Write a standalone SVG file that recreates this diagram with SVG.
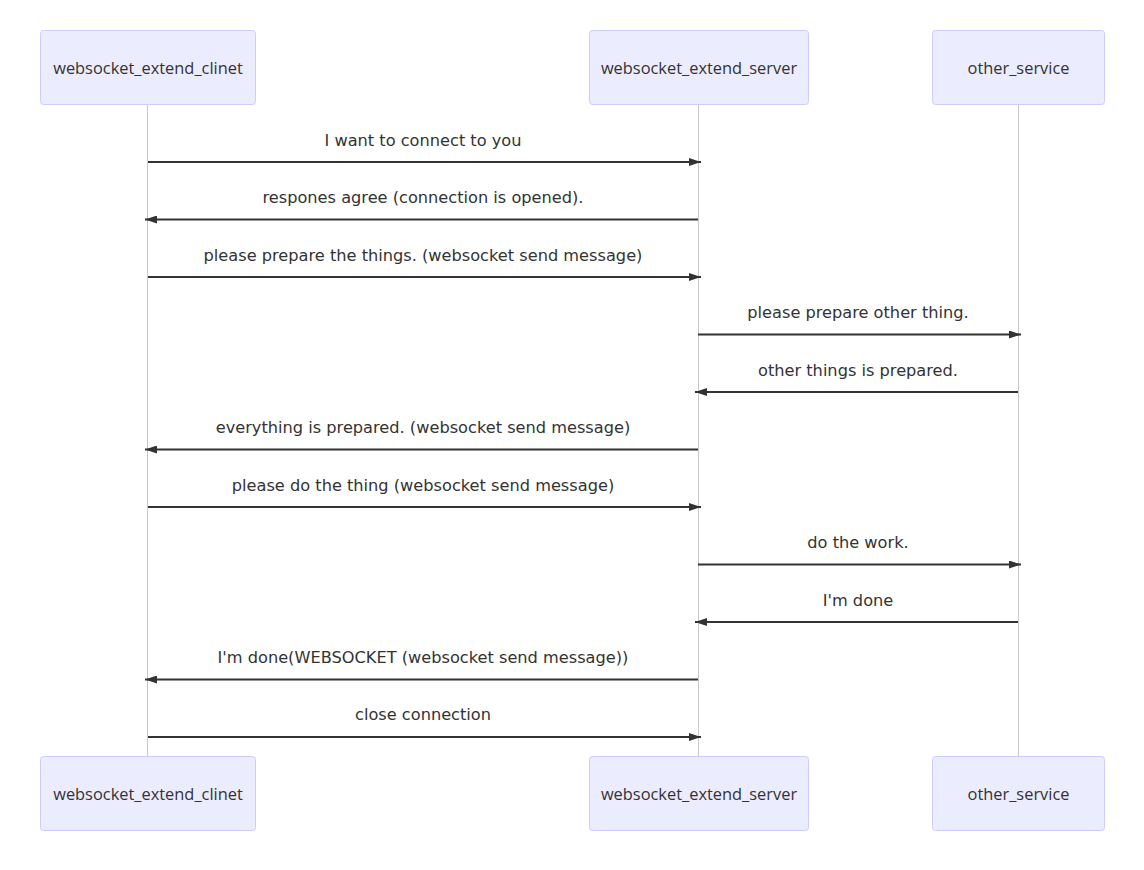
<svg xmlns="http://www.w3.org/2000/svg" width="1144" height="870" viewBox="0 0 1144 870">
<style>
.actor{fill:#ECECFF;stroke:#CCCCFF;stroke-width:1}
.atext{font-family:"Open Sans","Liberation Sans",sans-serif;font-size:16.4px;fill:#333;text-anchor:middle;dominant-baseline:central}
.life{stroke:#c8c8c8;stroke-width:1}
.msg{stroke:#333;stroke-width:2;fill:none}
.mtext{font-family:"DejaVu Sans","Liberation Sans",sans-serif;font-size:16.2px;fill:#333;text-anchor:middle}
</style>
<defs>
<marker id="ah" viewBox="0 0 12 8" refX="12" refY="4" markerWidth="12" markerHeight="8" markerUnits="userSpaceOnUse" orient="auto">
<path d="M0,0 L12,4 L0,8 z" fill="#333"/>
</marker>
</defs>
<rect width="1144" height="870" fill="#fff"/>
<g id="lifelines">
<line class="life" x1="147.5" y1="104" x2="147.5" y2="756"/>
<line class="life" x1="698.5" y1="104" x2="698.5" y2="756"/>
<line class="life" x1="1018.5" y1="104" x2="1018.5" y2="756"/>
</g>
<g id="client-top"><rect class="actor" x="40.5" y="30.5" width="215" height="74" rx="3"/><text class="atext" x="148" y="67">websocket_extend_clinet</text></g>
<g id="server-top"><rect class="actor" x="589.5" y="30.5" width="219" height="74" rx="3"/><text class="atext" x="699" y="67">websocket_extend_server</text></g>
<g id="other-top"><rect class="actor" x="932.5" y="30.5" width="172" height="74" rx="3"/><text class="atext" x="1018.5" y="67">other_service</text></g>
<g id="client-bottom"><rect class="actor" x="40.5" y="756.5" width="215" height="74" rx="3"/><text class="atext" x="148" y="793">websocket_extend_clinet</text></g>
<g id="server-bottom"><rect class="actor" x="589.5" y="756.5" width="219" height="74" rx="3"/><text class="atext" x="699" y="793">websocket_extend_server</text></g>
<g id="other-bottom"><rect class="actor" x="932.5" y="756.5" width="172" height="74" rx="3"/><text class="atext" x="1018.5" y="793">other_service</text></g>
<g id="connectors">
<line class="msg" x1="148" y1="162" x2="701" y2="162" marker-end="url(#ah)"/>
<line class="msg" x1="698" y1="219.5" x2="145" y2="219.5" marker-end="url(#ah)"/>
<line class="msg" x1="148" y1="277" x2="701" y2="277" marker-end="url(#ah)"/>
<line class="msg" x1="698" y1="334.5" x2="1021" y2="334.5" marker-end="url(#ah)"/>
<line class="msg" x1="1018" y1="392" x2="695" y2="392" marker-end="url(#ah)"/>
<line class="msg" x1="698" y1="449.5" x2="145" y2="449.5" marker-end="url(#ah)"/>
<line class="msg" x1="148" y1="507" x2="701" y2="507" marker-end="url(#ah)"/>
<line class="msg" x1="698" y1="564.5" x2="1021" y2="564.5" marker-end="url(#ah)"/>
<line class="msg" x1="1018" y1="622" x2="695" y2="622" marker-end="url(#ah)"/>
<line class="msg" x1="698" y1="679.5" x2="145" y2="679.5" marker-end="url(#ah)"/>
<line class="msg" x1="148" y1="737" x2="701" y2="737" marker-end="url(#ah)"/>
<text class="mtext" x="423" y="146">I want to connect to you</text>
<text class="mtext" x="423" y="203">respones agree (connection is opened).</text>
<text class="mtext" x="423" y="261">please prepare the things. (websocket send message)</text>
<text class="mtext" x="858" y="318">please prepare other thing.</text>
<text class="mtext" x="858" y="376">other things is prepared.</text>
<text class="mtext" x="423" y="433">everything is prepared. (websocket send message)</text>
<text class="mtext" x="423" y="491">please do the thing (websocket send message)</text>
<text class="mtext" x="858" y="548">do the work.</text>
<text class="mtext" x="858" y="606">I'm done</text>
<text class="mtext" x="423" y="663">I'm done(WEBSOCKET (websocket send message))</text>
<text class="mtext" x="423" y="720">close connection</text>
</g>
</svg>
